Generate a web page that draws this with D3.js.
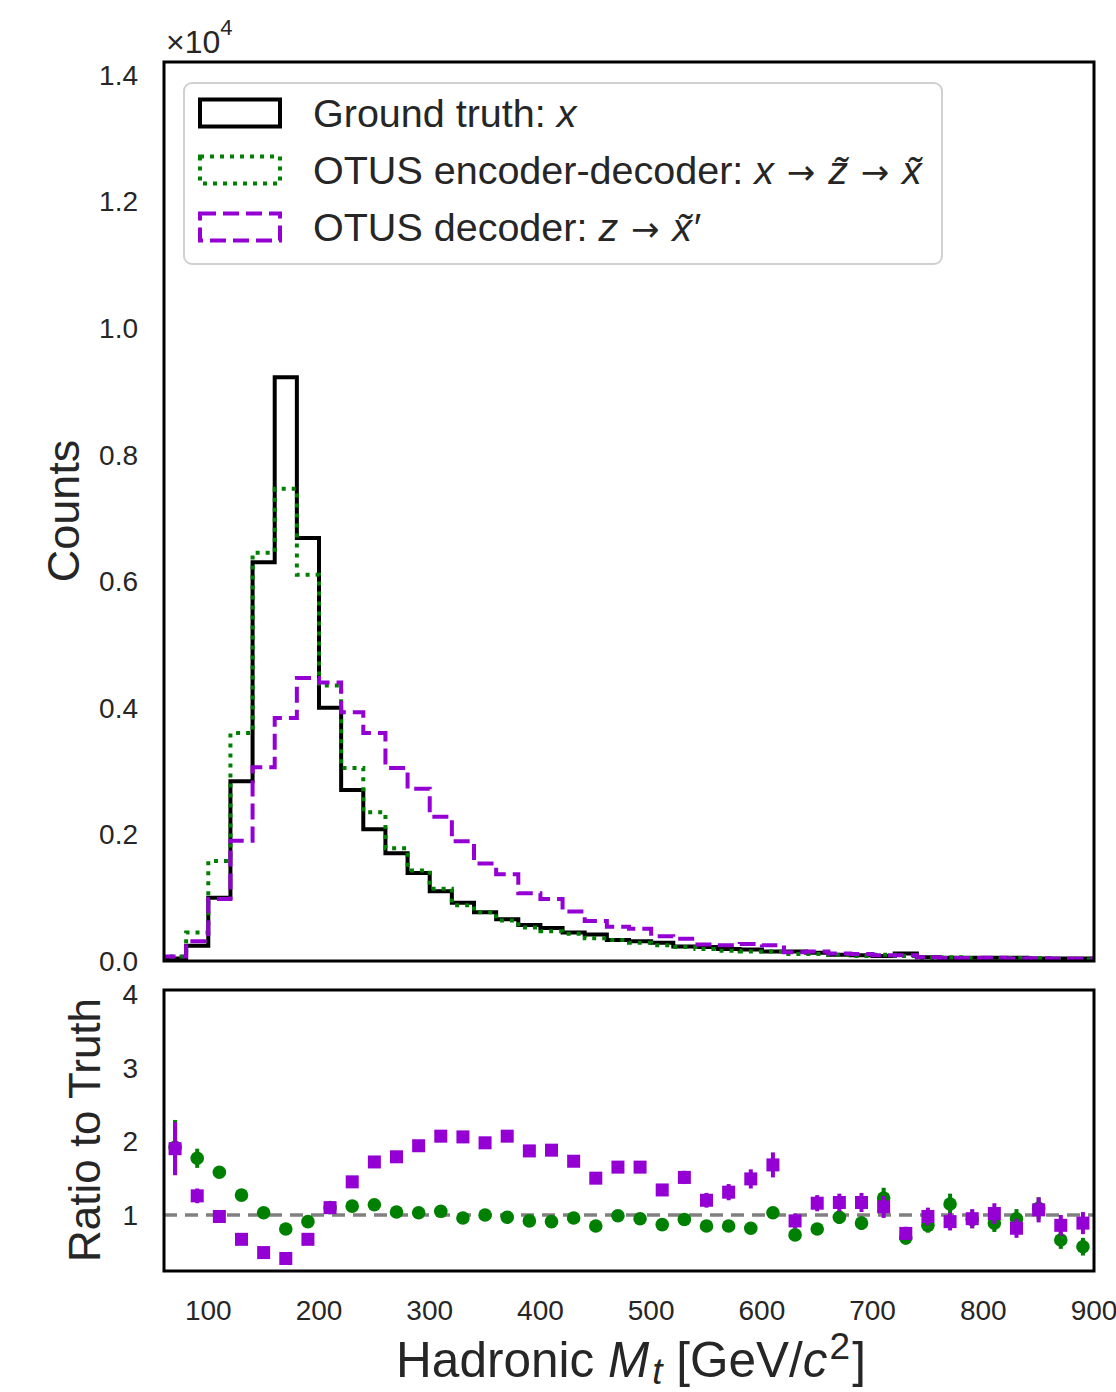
<!DOCTYPE html>
<html>
<head>
<meta charset="utf-8">
<script src="https://cdn.jsdelivr.net/npm/d3@7"></script>
<style>
body { margin: 0; background: #fff; }
text { font-family: "Liberation Sans", Arial, sans-serif; fill: #262626; }
</style>
</head>
<body>
<svg id="chart" width="1116" height="1392"></svg>
<script>
// Histogram bins: 20 GeV wide from 60 to 900
var binEdges = d3.range(60, 901, 20);

// Counts in units of 1e4
var truthCounts = [0.004, 0.024, 0.100, 0.284, 0.630, 0.922, 0.668, 0.400, 0.270, 0.208,
    0.170, 0.139, 0.110, 0.092, 0.077, 0.066, 0.057, 0.052, 0.045, 0.042,
    0.033, 0.031, 0.029, 0.023, 0.022, 0.019, 0.018, 0.015, 0.015, 0.013,
    0.010, 0.009, 0.008, 0.012, 0.006, 0.005, 0.005, 0.005, 0.005, 0.004,
    0.004, 0.004];
var encdecCounts = [0.007, 0.045, 0.158, 0.360, 0.645, 0.746, 0.610, 0.435, 0.305, 0.235,
    0.178, 0.143, 0.114, 0.088, 0.077, 0.064, 0.053, 0.047, 0.043, 0.036,
    0.033, 0.029, 0.025, 0.022, 0.019, 0.016, 0.015, 0.015, 0.011, 0.011,
    0.010, 0.008, 0.010, 0.008, 0.005, 0.006, 0.0047, 0.0045, 0.0047, 0.0044,
    0.0026, 0.0023];
var decoderCounts = [0.007, 0.031, 0.098, 0.190, 0.306, 0.384, 0.447, 0.440, 0.393, 0.360,
    0.305, 0.272, 0.228, 0.189, 0.154, 0.137, 0.107, 0.098, 0.078, 0.063,
    0.054, 0.051, 0.039, 0.035, 0.026, 0.025, 0.027, 0.025, 0.014, 0.015,
    0.012, 0.011, 0.009, 0.009, 0.006, 0.0046, 0.0048, 0.005, 0.004, 0.0043,
    0.0034, 0.0036];

// Ratio to truth, per bin
var encdecRatio = [1.92, 1.77, 1.58, 1.27, 1.03, 0.81, 0.91, 1.10, 1.12, 1.14,
    1.04, 1.03, 1.05, 0.96, 1.00, 0.97, 0.92, 0.91, 0.96, 0.85,
    0.99, 0.95, 0.87, 0.94, 0.85, 0.85, 0.82, 1.03, 0.73, 0.81,
    0.97, 0.89, 1.23, 0.69, 0.86, 1.15, 0.94, 0.89, 0.95, 1.09,
    0.66, 0.57];
var encdecErr = [0.37, 0.13, 0.07, 0.04, 0.02, 0.02, 0.02, 0.02, 0.02, 0.03,
    0.03, 0.03, 0.03, 0.03, 0.04, 0.04, 0.04, 0.04, 0.05, 0.05,
    0.05, 0.05, 0.05, 0.06, 0.06, 0.06, 0.07, 0.08, 0.07, 0.08,
    0.09, 0.09, 0.14, 0.09, 0.10, 0.14, 0.12, 0.12, 0.13, 0.15,
    0.12, 0.12];
var decoderRatio = [1.90, 1.26, 0.98, 0.67, 0.49, 0.41, 0.67, 1.10, 1.45, 1.72,
    1.79, 1.94, 2.07, 2.06, 1.98, 2.07, 1.87, 1.88, 1.73, 1.50,
    1.65, 1.65, 1.34, 1.51, 1.20, 1.31, 1.49, 1.68, 0.92, 1.16,
    1.17, 1.17, 1.11, 0.75, 0.98, 0.91, 0.95, 1.02, 0.82, 1.07,
    0.86, 0.89];
var decoderErr = [0.36, 0.10, 0.05, 0.03, 0.02, 0.01, 0.02, 0.03, 0.04, 0.04,
    0.05, 0.05, 0.06, 0.06, 0.06, 0.07, 0.07, 0.07, 0.07, 0.07,
    0.08, 0.08, 0.08, 0.09, 0.10, 0.11, 0.13, 0.17, 0.10, 0.11,
    0.12, 0.13, 0.15, 0.09, 0.12, 0.12, 0.13, 0.14, 0.13, 0.17,
    0.14, 0.15];

var countTicks = [0.0, 0.2, 0.4, 0.6, 0.8, 1.0, 1.2, 1.4];
var ratioTicks = [1, 2, 3, 4];
var massTicks = [100, 200, 300, 400, 500, 600, 700, 800, 900];

var GREEN = "#008000", PURPLE = "#9400d3";

var svg = d3.select("#chart");

var x = d3.scaleLinear().domain([60, 900]).range([164, 1094]);
var yTop = d3.scaleLinear().domain([0, 1.42]).range([961, 62]);
var yBot = d3.scaleLinear().domain([0.24, 4.054]).range([1271, 990]);

var defs = svg.append("defs");
defs.append("clipPath").attr("id", "clipTop").append("rect")
    .attr("x", 164).attr("y", 62).attr("width", 930).attr("height", 899);
defs.append("clipPath").attr("id", "clipBot").append("rect")
    .attr("x", 164).attr("y", 990).attr("width", 930).attr("height", 281);

// Step outline like histtype="step"
function stepPoints(vals) {
    var pts = [[binEdges[0], 0]];
    vals.forEach(function(v, i) {
        pts.push([binEdges[i], v]);
        pts.push([binEdges[i + 1], v]);
    });
    pts.push([binEdges[binEdges.length - 1], 0]);
    return pts;
}

var stepLine = d3.line()
    .x(function(d) { return x(d[0]); })
    .y(function(d) { return yTop(d[1]); });

var histG = svg.append("g").attr("clip-path", "url(#clipTop)");

var series = [
    { vals: truthCounts, color: "#000", dash: null },
    { vals: encdecCounts, color: GREEN, dash: "4,6" },
    { vals: decoderCounts, color: PURPLE, dash: "16,7" }
];

series.forEach(function(s) {
    histG.append("path")
        .attr("d", stepLine(stepPoints(s.vals)))
        .attr("fill", "none")
        .attr("stroke", s.color)
        .attr("stroke-width", 4)
        .attr("stroke-dasharray", s.dash)
        .attr("stroke-linejoin", "miter");
});

// Ratio panel
var ratioG = svg.append("g").attr("clip-path", "url(#clipBot)");

ratioG.append("line")
    .attr("x1", x(60)).attr("x2", x(900))
    .attr("y1", yBot(1)).attr("y2", yBot(1))
    .attr("stroke", "#808080").attr("stroke-width", 3.5)
    .attr("stroke-dasharray", "13,8");

var centers = binEdges.slice(0, -1).map(function(e) { return e + 10; });

function drawRatio(ratio, err, color, shape) {
    var g = ratioG.append("g");
    g.selectAll("line.err").data(ratio).enter().append("line")
        .attr("class", "err")
        .attr("x1", function(d, i) { return x(centers[i]); })
        .attr("x2", function(d, i) { return x(centers[i]); })
        .attr("y1", function(d, i) { return yBot(d - err[i]); })
        .attr("y2", function(d, i) { return yBot(d + err[i]); })
        .attr("stroke", color).attr("stroke-width", 4);
    if (shape == "circle") {
        g.selectAll("circle").data(ratio).enter().append("circle")
            .attr("cx", function(d, i) { return x(centers[i]); })
            .attr("cy", function(d) { return yBot(d); })
            .attr("r", 6.8)
            .attr("fill", color);
    } else {
        g.selectAll("rect").data(ratio).enter().append("rect")
            .attr("x", function(d, i) { return x(centers[i]) - 6.5; })
            .attr("y", function(d) { return yBot(d) - 6.5; })
            .attr("width", 13).attr("height", 13)
            .attr("fill", color);
    }
}
drawRatio(encdecRatio, encdecErr, GREEN, "circle");
drawRatio(decoderRatio, decoderErr, PURPLE, "square");

// Frames
svg.append("rect").attr("x", 164).attr("y", 62).attr("width", 930).attr("height", 899)
    .attr("fill", "none").attr("stroke", "#000").attr("stroke-width", 3);
svg.append("rect").attr("x", 164).attr("y", 990).attr("width", 930).attr("height", 281)
    .attr("fill", "none").attr("stroke", "#000").attr("stroke-width", 3);

// Tick labels
svg.append("g").selectAll("text").data(countTicks).enter().append("text")
    .attr("x", 138).attr("y", function(d) { return yTop(d); })
    .attr("dy", "0.36em").attr("text-anchor", "end")
    .attr("font-size", 28)
    .text(function(d) { return d.toFixed(1); });

svg.append("g").selectAll("text").data(ratioTicks).enter().append("text")
    .attr("x", 138).attr("y", function(d) { return yBot(d); })
    .attr("dy", "0.36em").attr("text-anchor", "end")
    .attr("font-size", 28)
    .text(function(d) { return d; });

svg.append("g").selectAll("text").data(massTicks).enter().append("text")
    .attr("x", function(d) { return x(d); }).attr("y", 1320)
    .attr("text-anchor", "middle")
    .attr("font-size", 28)
    .text(function(d) { return d; });

// Offset text
var off = svg.append("text").attr("x", 166).attr("y", 53).attr("font-size", 32);
off.append("tspan").text("\u00d710");
off.append("tspan").attr("font-size", 22).attr("dy", -18).text("4");

// Axis labels
svg.append("text")
    .attr("transform", "translate(79,511) rotate(-90)")
    .attr("text-anchor", "middle").attr("font-size", 45)
    .text("Counts");
svg.append("text")
    .attr("transform", "translate(100,1130) rotate(-90)")
    .attr("text-anchor", "middle").attr("font-size", 44)
    .text("Ratio to Truth");

var xl = svg.append("text").attr("x", 631).attr("y", 1377)
    .attr("text-anchor", "middle").attr("font-size", 49.5);
xl.append("tspan").text("Hadronic ");
xl.append("tspan").attr("font-style", "italic").text("M");
xl.append("tspan").attr("font-style", "italic").attr("font-size", 37).attr("dx", 3).attr("dy", 7).text("t");
xl.append("tspan").attr("dy", -7).text(" [GeV/");
xl.append("tspan").attr("font-style", "italic").text("c");
xl.append("tspan").attr("font-size", 37).attr("dx", 2).attr("dy", -18).text("2");
xl.append("tspan").attr("dy", 18).attr("dx", 2).text("]");

// Legend
var leg = svg.append("g");
leg.append("rect").attr("x", 184).attr("y", 83).attr("width", 758).attr("height", 181)
    .attr("rx", 8).attr("fill", "#fff").attr("fill-opacity", 0.8)
    .attr("stroke", "#d0d0d0").attr("stroke-width", 2);

var ARROW = "\u2009\u2192\u2009";
var legendRows = [
    { color: "#000", dash: null, parts: [["Ground truth: ", false], ["x", true]] },
    { color: GREEN, dash: "4,6", parts: [["OTUS encoder-decoder: ", false], ["x", true], [ARROW, false],
        ["z\u0303", true], [ARROW, false], ["x\u0303", true]] },
    { color: PURPLE, dash: "16,7", parts: [["OTUS decoder: ", false], ["z", true], [ARROW, false],
        ["x\u0303\u2032", true]] }
];

legendRows.forEach(function(r, i) {
    var cy = 113 + i * 57;
    leg.append("rect").attr("x", 200).attr("y", cy - 13.5).attr("width", 80).attr("height", 27)
        .attr("fill", "none").attr("stroke", r.color).attr("stroke-width", 4)
        .attr("stroke-dasharray", r.dash);
    var t = leg.append("text").attr("x", 313).attr("y", cy + 14).attr("font-size", 39.5);
    var afterArrow = false;
    r.parts.forEach(function(p) {
        var ts = t.append("tspan").attr("font-style", p[1] ? "italic" : null).text(p[0]);
        if (p[0] == ARROW) {
            ts.attr("font-family", "DejaVu Sans").attr("font-size", 34).attr("dx", 6);
            afterArrow = true;
        } else if (afterArrow) {
            ts.attr("dx", 6);
            afterArrow = false;
        }
    });
});
</script>
</body>
</html>
